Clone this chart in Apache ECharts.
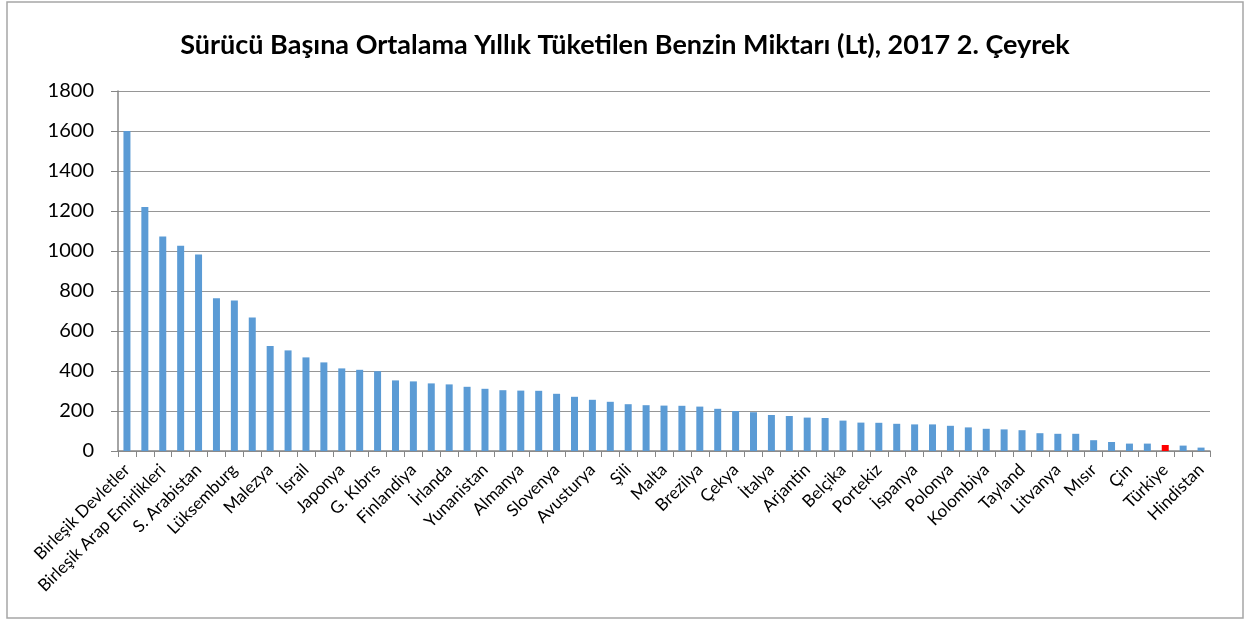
<!DOCTYPE html>
<html>
<head>
<meta charset="utf-8">
<script src="https://cdn.jsdelivr.net/npm/echarts@6/dist/echarts.min.js"></script>
<style>
  html, body { margin: 0; padding: 0; background: #fff; }
  #chart { width: 1250px; height: 622px; }
</style>
</head>
<body>
<div id="chart"></div>
<script>
// countries, sorted by consumption
const countries = [
    "Birleşik Devletler", "", "Birleşik Arap Emirlikleri", "", "S. Arabistan", "",
    "Lüksemburg", "", "Malezya", "", "İsrail", "", "Japonya", "", "G. Kıbrıs", "",
    "Finlandiya", "", "İrlanda", "", "Yunanistan", "", "Almanya", "", "Slovenya", "",
    "Avusturya", "", "Şili", "", "Malta", "", "Brezilya", "", "Çekya", "",
    "İtalya", "", "Arjantin", "", "Belçika", "", "Portekiz", "", "İspanya", "",
    "Polonya", "", "Kolombiya", "", "Tayland", "", "Litvanya", "", "Mısır", "",
    "Çin", "", "Türkiye", "", "Hindistan"
];

// litres per driver per year
const litres = [
    1600, 1220, 1073, 1026, 982, 764, 752, 667, 525, 503,
    468, 443, 413, 406, 399, 353, 348, 338, 333, 321,
    311, 304, 302, 301, 286, 271, 256, 246, 234, 229,
    227, 226, 222, 211, 200, 194, 180, 175, 167, 165,
    152, 142, 141, 136, 133, 133, 126, 118, 111, 108,
    104, 89, 86, 86, 54, 45, 37, 37, 30, 27, 17
];

const highlight = "Türkiye";
const yTicks = [0, 200, 400, 600, 800, 1000, 1200, 1400, 1600, 1800];

const chart = echarts.init(document.getElementById("chart"));

const option = {
    animation: false,
    textStyle: { fontFamily: "Lato" },
    title: {
        text: "Sürücü Başına Ortalama Yıllık Tüketilen Benzin Miktarı (Lt), 2017 2. Çeyrek",
        left: "center",
        top: 27,
        textStyle: { fontSize: 27, fontWeight: "bold", color: "#000", fontFamily: "Lato" },
    },
    graphic: [
        {
            type: "rect",
            shape: { x: 7, y: 2, width: 1236, height: 616 },
            style: { fill: null, stroke: "#a6a6a6", lineWidth: 1.5 },
            silent: true,
        },
    ],
    grid: {
        left: 118,
        right: 40,
        top: 91,
        bottom: 171,
    },
    xAxis: {
        type: "category",
        data: countries.map((c, i) => c || "_" + i),
        axisLine: { lineStyle: { color: "#868686", width: 1.5 } },
        axisTick: { show: true, length: 6, lineStyle: { color: "#868686" } },
        axisLabel: {
            interval: 0,
            rotate: 45,
            fontSize: 17,
            color: "#000",
            margin: 16,
            formatter: (v) => (v.startsWith("_") ? "" : v),
        },
    },
    yAxis: {
        type: "value",
        min: yTicks[0],
        max: yTicks[yTicks.length - 1],
        interval: 200,
        axisLine: { show: true, lineStyle: { color: "#868686", width: 1.5 } },
        axisTick: { show: true, length: 7, lineStyle: { color: "#868686" } },
        axisLabel: { fontSize: 20, color: "#000", margin: 24, formatter: (v) => String(v) },
        splitLine: { lineStyle: { color: "#969696", width: 1.2 } },
    },
    series: [
        {
            type: "bar",
            barWidth: 7,
            data: litres.map((v, i) => ({
                value: v,
                itemStyle: { color: countries[i] === highlight ? "#ff0000" : "#5b9bd5" },
            })),
        },
    ],
};

chart.setOption(option);
</script>
</body>
</html>
